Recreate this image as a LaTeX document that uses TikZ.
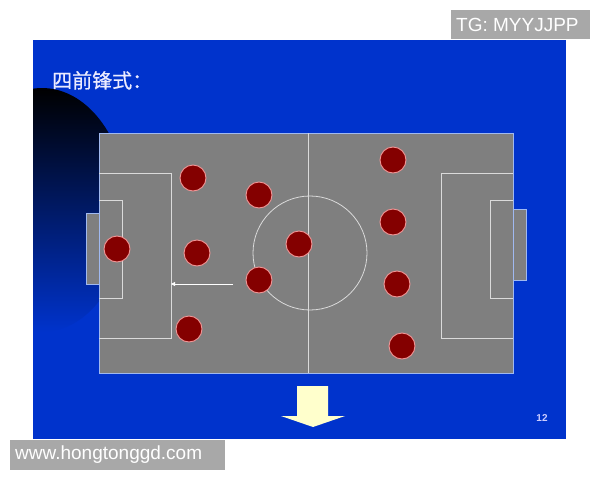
\documentclass[tikz,border=0pt]{standalone}
\usepackage{fontspec}
\setmainfont{Liberation Sans}
\newfontfamily\cjk{Noto Sans CJK SC}[FakeBold=0.8]
\usepackage{xcolor}
\usepackage{tikz}
\usetikzlibrary{arrows.meta, positioning}

\definecolor{slideblue}{RGB}{0,51,204}
\definecolor{pitchgray}{RGB}{127,127,127}
\definecolor{pitchrim}{RGB}{160,185,240}
\definecolor{chalk}{RGB}{218,218,218}
\definecolor{playerred}{RGB}{132,0,0}
\definecolor{playerrim}{RGB}{242,150,150}
\definecolor{badgegray}{RGB}{168,168,168}
\definecolor{paleyellow}{RGB}{255,255,204}

\begin{document}
\begin{tikzpicture}[
      x=1pt, y=-1pt,
      chalkline/.style = {draw=chalk, line width=0.8pt},
      player/.style = {shape=circle, draw=playerrim, line width=0.9pt,
        fill=playerred, minimum size=26pt, inner sep=0pt
      },
      run/.style = {draw=white, line width=0.8pt, -{Triangle[length=4pt,width=4pt]}},
      badge/.style = {fill=badgegray, draw=none},
      badgetext/.style = {text=white, inner sep=0pt, font=\fontsize{19}{22}\selectfont}
    ]
    \useasboundingbox (0,0) rectangle (600,480);
    \fill[white] (0,0) rectangle (600,480);

    % slide
    \fill[slideblue] (33,40) rectangle (566,439);
    \begin{scope}
      \clip (33,40) rectangle (566,439);
      \shade[top color=black, bottom color=slideblue] (42,210) ellipse [x radius=86pt, y radius=122pt];
    \end{scope}
    \node[anchor=base west, inner sep=0pt, text=white!92!blue,
      font=\cjk\fontsize{20}{24}\selectfont] (title) at (52,88) {四前锋式：};

    % pitch
    \filldraw[fill=pitchgray, draw=pitchrim, line width=0.9pt] (86,213) rectangle (99,284);
    \filldraw[fill=pitchgray, draw=pitchrim, line width=0.9pt] (513,209) rectangle (526,280);
    \filldraw[fill=pitchgray, draw=pitchrim, line width=0.9pt] (99,133) rectangle (513,373);
    \draw[chalkline] (308,133) -- (308,373);
    \draw[chalkline] (310,253) circle [radius=57pt];
    \draw[chalkline] (99,173) -- (171,173) -- (171,338) -- (99,338);
    \draw[chalkline] (99,200) -- (122,200) -- (122,298) -- (99,298);
    \draw[chalkline] (513,173) -- (441,173) -- (441,338) -- (513,338);
    \draw[chalkline] (513,200) -- (490,200) -- (490,298) -- (513,298);

    % players
    \node[player] (keeper) at (117,249) {};
    \node[player] (back1) at (193,178) {};
    \node[player] (back2) at (197,253) {};
    \node[player] (back3) at (189,329) {};
    \node[player] (mid1) at (259,195) {};
    \node[player] (mid2) at (259,280) {};
    \node[player] (mid3) at (299,244) {};
    \node[player] (fwd1) at (393,160) {};
    \node[player] (fwd2) at (393,222) {};
    \node[player] (fwd3) at (397,284) {};
    \node[player] (fwd4) at (402,346) {};

    \coordinate (runstart) at (233,284);
    \coordinate (runend) at (171,284);
    \draw[run] (runstart) -- (runend);

    % big arrow
    \fill[paleyellow] (297,386) -- (328,386) -- (328,416) -- (345,416)
      -- (313,427) -- (281,416) -- (297,416) -- cycle;
    \node[text=white!80!blue, inner sep=0pt, font=\bfseries\fontsize{10}{11}\selectfont] (pagenum) at (542,418) {12};

    % watermarks
    \fill[badge] (451,10) rectangle (590,39);
    \node[badgetext, anchor=west] (tg) at (456,25) {TG: MYYJJPP};
    \fill[badge] (10,440) rectangle (225,470);
    \node[badgetext, anchor=west] (site) at (15,455) {www.hongtonggd.com};
\end{tikzpicture}
\end{document}
